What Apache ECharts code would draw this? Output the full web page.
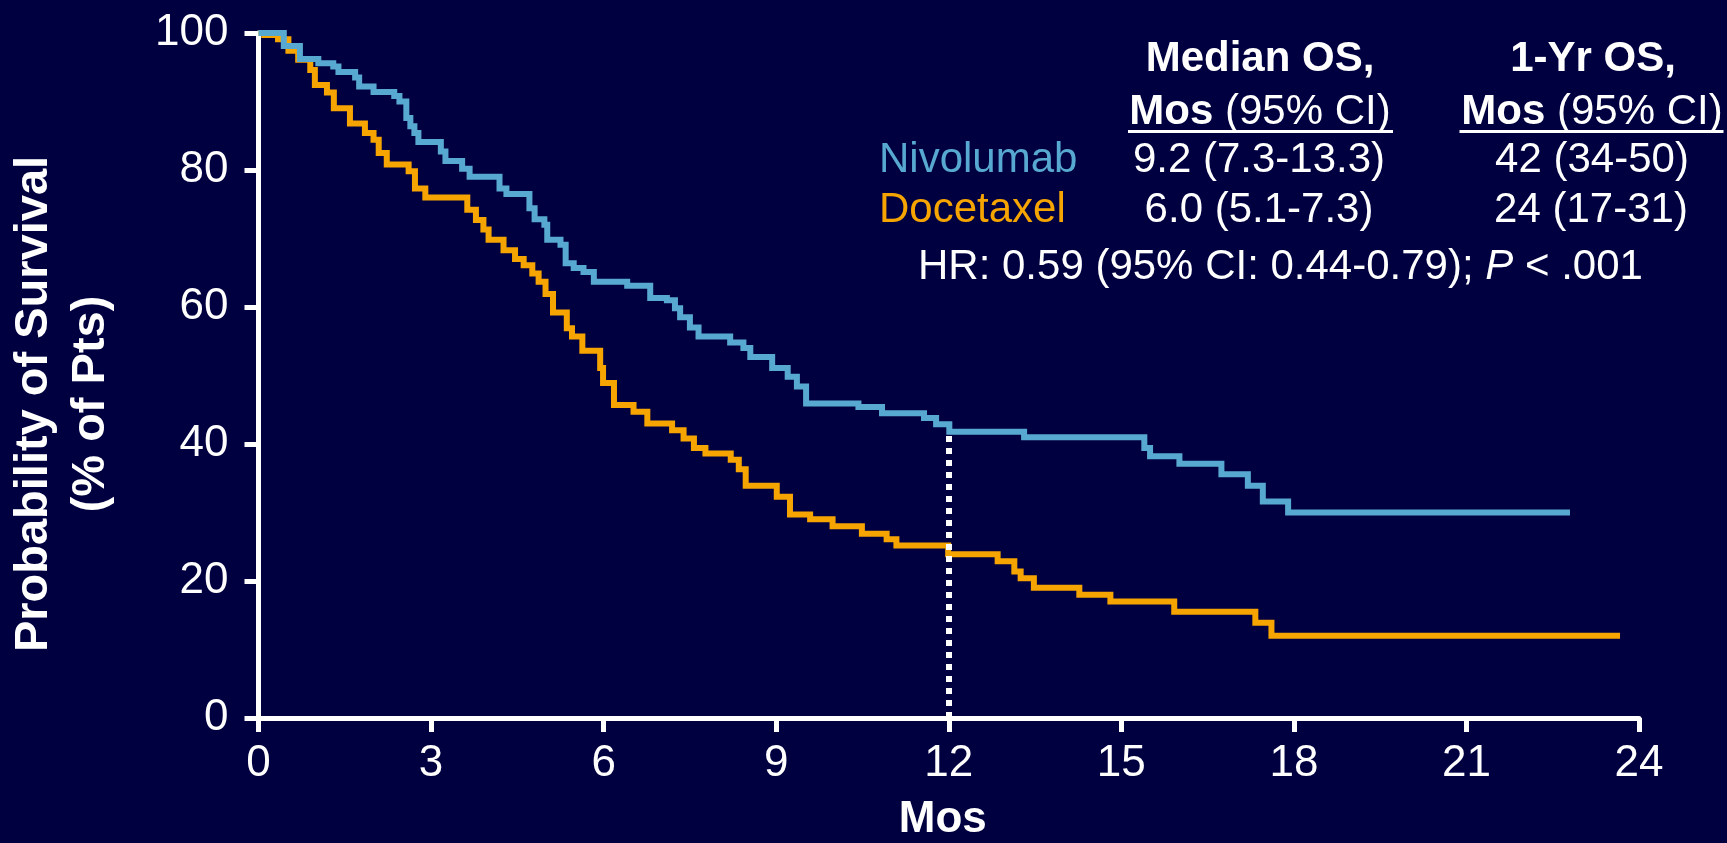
<!DOCTYPE html>
<html>
<head>
<meta charset="utf-8">
<style>
  html, body { margin: 0; padding: 0; background: #000040; }
  #chart { width: 1727px; height: 843px; }
</style>
<script src="https://cdn.jsdelivr.net/npm/echarts@6/dist/echarts.min.js"></script>
</head>
<body>
<div id="chart"></div>
<script>
// ---- Data ----
const xTicks = [0, 3, 6, 9, 12, 15, 18, 21, 24];
const yTicks = [0, 20, 40, 60, 80, 100];

const nivoTime = [0, 0.44, 0.72, 1.04, 1.30, 1.39, 1.68, 1.75, 2.00, 2.36, 2.45, 2.57, 2.64, 2.71, 2.78, 3.17, 3.25, 3.54, 3.67, 4.19, 4.31, 4.71, 4.80, 4.97, 5.02, 5.25, 5.34, 5.48, 5.65, 5.83, 6.41, 6.81, 7.10, 7.24, 7.33, 7.50, 7.65, 8.20, 8.43, 8.55, 8.93, 9.20, 9.36, 9.52, 10.43, 10.84, 11.57, 11.78, 12.01, 13.31, 15.40, 15.50, 16.01, 16.74, 17.20, 17.46, 17.90, 22.80];
const nivoSurv = [100, 98.1, 96.2, 95.6, 95.1, 94.3, 93.5, 92.2, 91.4, 90.8, 90.0, 87.6, 86.4, 85.4, 84.1, 82.7, 81.3, 80.2, 79.0, 77.3, 76.5, 74.4, 72.8, 72.0, 69.8, 69.1, 66.4, 65.7, 65.1, 63.7, 63.1, 61.3, 61.0, 59.8, 58.5, 57.0, 55.7, 54.8, 54.0, 52.7, 51.1, 49.8, 48.4, 45.9, 45.4, 44.5, 43.8, 42.9, 41.8, 41.0, 39.4, 38.2, 37.1, 35.6, 33.9, 31.6, 30.0, 30.0];

const doceTime = [0, 0.10, 0.34, 0.52, 0.69, 0.90, 0.98, 1.19, 1.31, 1.59, 1.85, 2.00, 2.09, 2.23, 2.61, 2.72, 2.90, 3.63, 3.78, 3.91, 4.00, 4.26, 4.46, 4.61, 4.76, 4.87, 4.99, 5.12, 5.36, 5.45, 5.63, 5.94, 5.99, 6.18, 6.52, 6.76, 7.19, 7.39, 7.57, 7.77, 8.21, 8.35, 8.47, 9.01, 9.24, 9.59, 9.98, 10.49, 10.92, 11.09, 11.99, 12.85, 13.14, 13.25, 13.48, 14.27, 14.81, 15.92, 17.33, 17.61, 23.67];
const doceSurv = [100, 99.7, 99.1, 97.4, 96.1, 94.6, 92.4, 91.3, 89.0, 86.8, 85.4, 84.4, 82.5, 80.8, 79.8, 77.3, 76.0, 74.2, 72.7, 71.3, 69.8, 68.3, 67.0, 66.1, 64.9, 63.7, 61.9, 59.2, 56.9, 55.7, 53.6, 51.1, 48.9, 45.7, 44.7, 43.0, 42.0, 40.8, 39.4, 38.6, 37.7, 36.3, 33.9, 32.3, 29.7, 29.0, 28.0, 26.9, 26.1, 25.2, 23.9, 22.9, 21.4, 20.4, 19.0, 18.0, 17.0, 15.5, 13.9, 12.0, 12.0];

const landmarkMonth = 12;
const nivoAtLandmark = 41.8;

// ---- Styling ----
const BG = '#000040';
const BLUE = '#58A9D1';
const ORANGE = '#F6A400';
const FONT = '"Liberation Sans", Arial, Helvetica, sans-serif';

const zip = (xs, ys) => xs.map((x, i) => [x, ys[i]]);

const chart = echarts.init(document.getElementById('chart'), null, { renderer: 'canvas' });

const axisCommon = {
  axisLine: { show: true, lineStyle: { color: '#ffffff', width: 5 } },
  axisTick: { show: true, length: 14, lineStyle: { color: '#ffffff', width: 5 } },
  splitLine: { show: false },
};

const tableFont = 42;
const txt = (text, x, y, opts = {}) => ({
  type: 'text', x: x, y: y, silent: true,
  style: Object.assign({
    text: text,
    fill: '#ffffff',
    font: (opts.bold ? 'bold ' : '') + (opts.size || tableFont) + 'px ' + FONT,
    textAlign: opts.align || 'center',
    textVerticalAlign: 'middle'
  }, opts.style || {})
});
const richBase = {
  b: { fontWeight: 'bold', fontSize: tableFont, fontFamily: FONT, color: '#ffffff' },
  r: { fontWeight: 'normal', fontSize: tableFont, fontFamily: FONT, color: '#ffffff' },
  i: { fontStyle: 'italic', fontSize: tableFont, fontFamily: FONT, color: '#ffffff' }
};

const option = {
  backgroundColor: BG,
  animation: false,
  grid: { left: 258.5, right: 88, top: 33, bottom: 125, containLabel: false, outerBoundsMode: 'none' },
  xAxis: Object.assign({
    type: 'value',
    min: xTicks[0], max: xTicks[xTicks.length - 1], interval: xTicks[1] - xTicks[0],
    axisLabel: { color: '#ffffff', fontSize: 44, fontFamily: FONT, margin: 24 },
    name: 'Mos', nameLocation: 'middle', nameGap: 80,
    nameTextStyle: { color: '#ffffff', fontSize: 44, fontWeight: 'bold', fontFamily: FONT, padding: [0, 12, 0, 0] }
  }, axisCommon),
  yAxis: Object.assign({
    type: 'value',
    min: yTicks[0], max: yTicks[yTicks.length - 1], interval: yTicks[1] - yTicks[0],
    axisLabel: { color: '#ffffff', fontSize: 44, fontFamily: FONT, margin: 30 }
  }, axisCommon),
  series: [
    {
      name: 'Docetaxel', type: 'line', step: 'end', data: zip(doceTime, doceSurv),
      symbol: 'none', showSymbol: false, z: 2,
      lineStyle: { color: ORANGE, width: 6, cap: 'butt', join: 'miter' }
    },
    {
      name: 'Nivolumab', type: 'line', step: 'end', data: zip(nivoTime, nivoSurv),
      symbol: 'none', showSymbol: false, z: 3,
      lineStyle: { color: BLUE, width: 6, cap: 'butt', join: 'miter' }
    },
    {
      name: 'landmark', type: 'line', data: [], z: 4, symbol: 'none',
      markLine: {
        silent: true, symbol: ['none', 'none'], label: { show: false }, animation: false,
        lineStyle: { color: '#ffffff', width: 6, type: [6, 6] },
        data: [[{ coord: [landmarkMonth, 0] }, { coord: [landmarkMonth, nivoAtLandmark] }]]
      }
    }
  ],
  graphic: [
    // y-axis title (rotated, two lines)
    {
      type: 'text', x: 63, y: 404, rotation: Math.PI / 2, silent: true,
      style: {
        text: 'Probability of Survival\n(% of Pts)',
        fill: '#ffffff', font: 'bold 47px ' + FONT, lineHeight: 57,
        textAlign: 'center', textVerticalAlign: 'middle'
      }
    },
    // table headers
    txt('Median OS,', 1260, 59, { bold: true }),
    {
      type: 'text', x: 1260, y: 112, silent: true,
      style: { text: '{b|Mos}{r| (95% CI)}', rich: richBase, fill: '#ffffff', font: tableFont + 'px ' + FONT, textAlign: 'center', textVerticalAlign: 'middle' }
    },
    { type: 'line', silent: true, shape: { x1: 1128, y1: 131.5, x2: 1393, y2: 131.5 }, style: { stroke: '#ffffff', lineWidth: 3 } },
    txt('1-Yr OS,', 1593, 59, { bold: true }),
    {
      type: 'text', x: 1592, y: 112, silent: true,
      style: { text: '{b|Mos}{r| (95% CI)}', rich: richBase, fill: '#ffffff', font: tableFont + 'px ' + FONT, textAlign: 'center', textVerticalAlign: 'middle' }
    },
    { type: 'line', silent: true, shape: { x1: 1459.5, y1: 131.5, x2: 1723.5, y2: 131.5 }, style: { stroke: '#ffffff', lineWidth: 3 } },
    // rows
    txt('Nivolumab', 879, 160, { align: 'left', style: { fill: BLUE } }),
    txt('9.2 (7.3-13.3)', 1259, 160),
    txt('42 (34-50)', 1592, 160),
    txt('Docetaxel', 879, 210, { align: 'left', style: { fill: ORANGE } }),
    txt('6.0 (5.1-7.3)', 1259, 210),
    txt('24 (17-31)', 1591, 210),
    {
      type: 'text', x: 918, y: 267.5, silent: true,
      style: { text: '{r|HR: 0.59 (95% CI: 0.44-0.79); }{i|P}{r| < .001}', rich: richBase, fill: '#ffffff', font: tableFont + 'px ' + FONT, textAlign: 'left', textVerticalAlign: 'middle' }
    }
  ]
};

chart.setOption(option);
</script>
</body>
</html>
